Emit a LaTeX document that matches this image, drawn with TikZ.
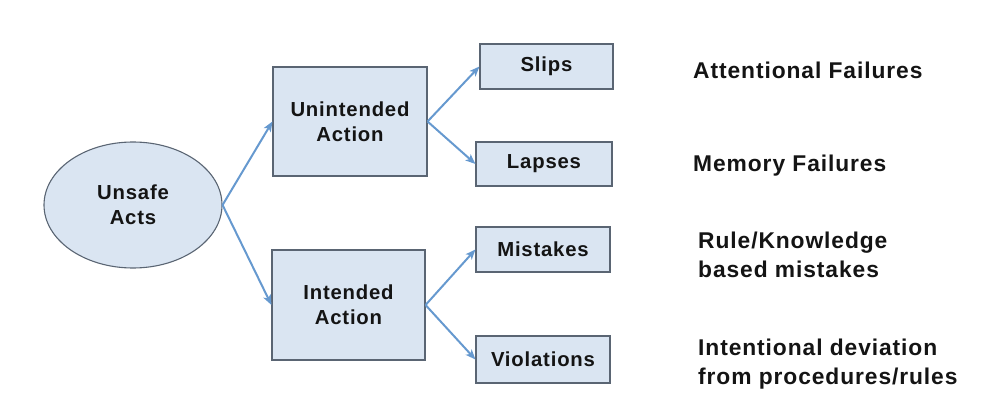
\documentclass[tikz,border=0pt]{standalone}
\usepackage{fontspec}
\setmainfont{Liberation Sans}[LetterSpace=4]
\usetikzlibrary{shapes.geometric,arrows.meta}
\definecolor{boxfill}{HTML}{DAE5F2}
\definecolor{boxline}{HTML}{5A6573}
\definecolor{arrowblue}{HTML}{6699CF}
\definecolor{txt}{HTML}{141414}
\begin{document}
\begin{tikzpicture}[x=1pt,y=-1pt,
  every node/.style={font=\fontsize{20.3}{25}\selectfont\bfseries, text=txt},
  box/.style={draw=boxline, line width=1.1pt, fill=boxfill, rectangle, align=center, inner sep=0pt},
  oval/.style={draw=boxline, line width=1.1pt, fill=boxfill, ellipse, align=center, inner sep=0pt},
  note/.style={anchor=west, align=left, inner sep=0pt, font=\fontsize{22.8}{29}\selectfont\bfseries},
  conn/.style={draw=arrowblue, line width=2pt, -{Stealth[length=10pt,width=8pt,inset=2.5pt]}}]
\useasboundingbox (0,0) rectangle (997,417);
\node[oval, minimum width=178pt, minimum height=126pt] (acts) at (133,205) {Unsafe\\Acts};
\node[box, minimum width=154pt, minimum height=109pt] (unint) at (350,121.5) {Unintended\\Action};
\node[box, minimum width=153pt, minimum height=110pt] (int) at (348.5,305) {Intended\\Action};
\node[box, minimum width=133pt, minimum height=45pt] (slips) at (546.5,66.5) {Slips};
\node[box, minimum width=136pt, minimum height=44pt] (lapses) at (544,164) {Lapses};
\node[box, minimum width=134pt, minimum height=45pt] (mistakes) at (543,249.5) {Mistakes};
\node[box, minimum width=134pt, minimum height=47pt] (violations) at (543,359.5) {Violations};
\node[note] (l1) at (693,70) {Attentional Failures};
\node[note] (l2) at (693,166) {Memory Failures};
\node[note] (l3) at (698,255) {Rule/Knowledge\\based mistakes};
\node[note] (l4) at (698,364) {Intentional deviation\\from procedures/rules};
\draw[conn] (acts.east) -- (unint.west);
\draw[conn] (acts.east) -- (int.west);
\draw[conn] (unint.east) -- (slips.west);
\draw[conn] (unint.east) -- (lapses.west);
\draw[conn] (int.east) -- (mistakes.west);
\draw[conn] (int.east) -- (violations.west);
\end{tikzpicture}
\end{document}
